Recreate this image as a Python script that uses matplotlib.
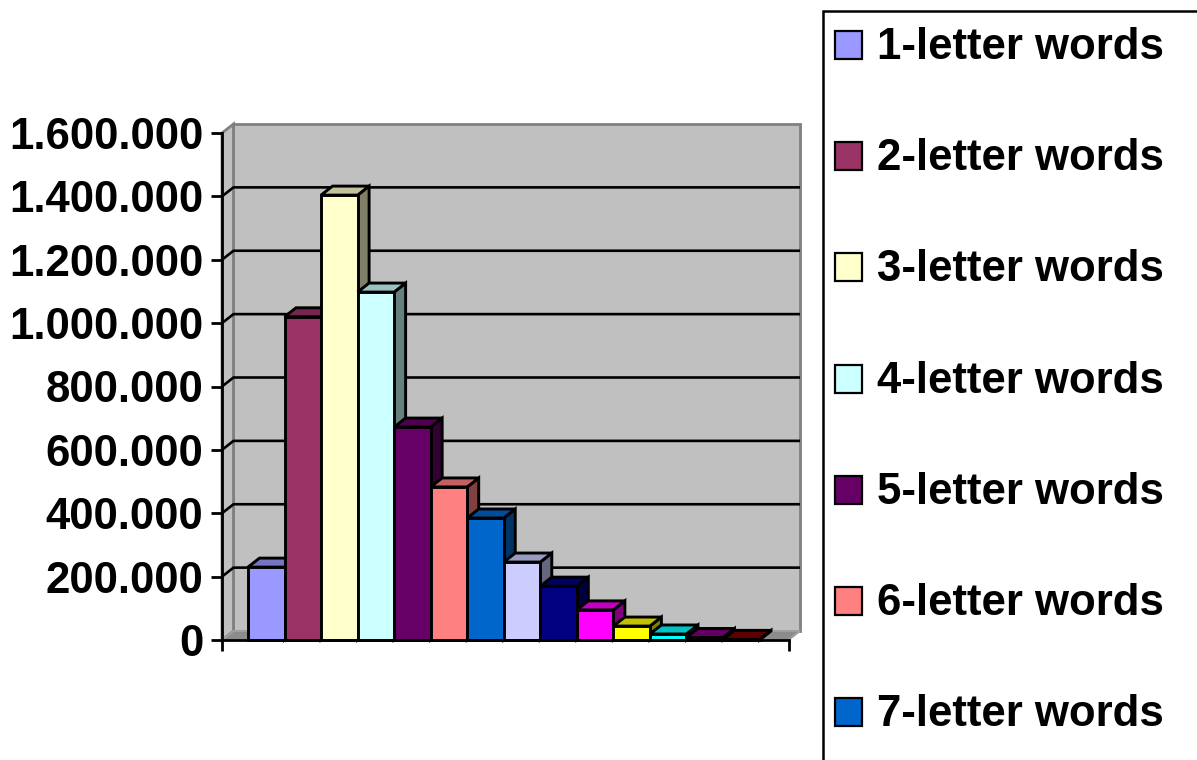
import matplotlib
matplotlib.use('Agg')
import matplotlib.pyplot as plt
from matplotlib.patches import Polygon, Rectangle
import matplotlib.colors as mcolors
from matplotlib.ticker import FuncFormatter

plt.rcParams['font.family'] = ['Liberation Sans', 'DejaVu Sans']
plt.rcParams['font.weight'] = 'bold'

# ---------------- data ----------------
series_labels = ["1-letter words", "2-letter words", "3-letter words", "4-letter words",
                 "5-letter words", "6-letter words", "7-letter words", "8-letter words",
                 "9-letter words", "10-letter words", "11-letter words", "12-letter words",
                 "13-letter words", "14-letter words"]
values = [230000, 1020000, 1404000, 1098000, 672000, 483000, 385000, 246000,
          170000, 95000, 44000, 19000, 8000, 2000]
colors = ["#9999FF", "#993366", "#FFFFCC", "#CCFFFF", "#660066", "#FF8080", "#0066CC",
          "#CCCCFF", "#000080", "#FF00FF", "#FFFF00", "#00FFFF", "#800080", "#800000"]
y_ticks = [0, 200000, 400000, 600000, 800000, 1000000, 1200000, 1400000, 1600000]
y_max = 1600000

# ---------------- layout (pixels) ----------------
W, H = 1197, 760
front_left_px, back_right_px = 222, 800
zero_px, top_px, wall_top_px = 640, 133, 124
bar_px = 36.57
gap_left_px, gap_right_px = 26, 29
dx_px, dy_px = 11.5, 9

fig = plt.figure(figsize=(W / 100, H / 100), dpi=100)
ax = fig.add_axes([front_left_px / W, (H - zero_px) / H,
                   (back_right_px - front_left_px) / W, (zero_px - wall_top_px) / H])
ax.set_facecolor('none')

n = len(values)
x0 = -gap_left_px / bar_px
x1 = n + gap_right_px / bar_px
dx = dx_px / bar_px
dy = y_max * dy_px / (zero_px - top_px)
ax.set_xlim(x0, x1 + dx)
ax.set_ylim(0, y_max * (zero_px - wall_top_px) / (zero_px - top_px))

wall_c = "#C0C0C0"
wall_e = "#808080"
# back wall
ax.add_patch(Polygon([(x0 + dx, dy), (x1 + dx, dy), (x1 + dx, y_max + dy), (x0 + dx, y_max + dy)],
                     closed=True, facecolor=wall_c, edgecolor=wall_e, lw=2.0, zorder=0.5, clip_on=False))
# side wall
ax.add_patch(Polygon([(x0, 0), (x0 + dx, dy), (x0 + dx, y_max + dy), (x0, y_max)],
                     closed=True, facecolor=wall_c, edgecolor=wall_e, lw=2.0, zorder=0.5, clip_on=False))
# floor
ax.add_patch(Polygon([(x0, 0), (x1, 0), (x1 + dx, dy), (x0 + dx, dy)],
                     closed=True, facecolor="#8C8C8C", edgecolor="#A0A0A0", lw=1.4, zorder=0.6, clip_on=False))
# gridlines
for v in y_ticks[1:-1]:
    ax.plot([x0, x0 + dx, x1 + dx], [v, v + dy, v + dy], color='black', lw=1.9, zorder=0.7,
            clip_on=False, solid_capstyle='butt')


def shade(c, f):
    r, g, b = mcolors.to_rgb(c)
    return (r * f, g * f, b * f)


edge_lw = 2.1
for i, (v, c) in enumerate(zip(values, colors)):
    z = 3 + i * 0.01
    ax.add_patch(Polygon([(i + 1, 0), (i + 1 + dx, dy), (i + 1 + dx, v + dy), (i + 1, v)],
                         closed=True, facecolor=shade(c, 0.5), edgecolor='black', lw=edge_lw,
                         zorder=z, clip_on=False, joinstyle='miter'))
    ax.add_patch(Polygon([(i, v), (i + 1, v), (i + 1 + dx, v + dy), (i + dx, v + dy)],
                         closed=True, facecolor=shade(c, 0.76), edgecolor='black', lw=edge_lw,
                         zorder=z, clip_on=False, joinstyle='miter'))
    ax.add_patch(Rectangle((i, 0), 1, v, facecolor=c, edgecolor='black', lw=edge_lw,
                           zorder=z + 0.001, clip_on=False, joinstyle='miter'))

# axes
for s in ['top', 'right']:
    ax.spines[s].set_visible(False)
ax.spines['left'].set_bounds(0, y_max)
ax.spines['bottom'].set_bounds(x0, x1)
for s in ['left', 'bottom']:
    ax.spines[s].set_linewidth(2.0)
    ax.spines[s].set_zorder(10)
ax.set_yticks(y_ticks)
ax.yaxis.set_major_formatter(FuncFormatter(lambda v, p: f"{int(v):,}".replace(',', '.')))
ax.set_xticks([x0, x1])
ax.set_xticklabels([])
ax.tick_params(axis='both', direction='out', length=7.9, width=2.0, color='black')
ax.tick_params(axis='y', pad=5.5, labelsize=31.5)
for t in ax.get_yticklabels():
    t.set_fontweight('bold')

# legend (clipped by figure edge like the original)
fig.add_artist(Rectangle((822.5 / W, -0.1), 0.5, (H - 10.5) / H + 0.1, transform=fig.transFigure,
                         fill=False, edgecolor='black', lw=1.8, clip_on=False))
row_px = 111.2
for i, (lab, c) in enumerate(zip(series_labels, colors)):
    base = 59 + row_px * i
    if base - 30 > H:
        break
    fig.add_artist(Rectangle((835 / W, (H - base) / H), 27 / W, 28 / H, transform=fig.transFigure,
                             facecolor=c, edgecolor='black', lw=1.6))
    fig.text(877 / W, (H - base) / H, lab, fontsize=31.5, fontweight='bold',
             ha='left', va='baseline')

fig.savefig('out.png', dpi=100)
